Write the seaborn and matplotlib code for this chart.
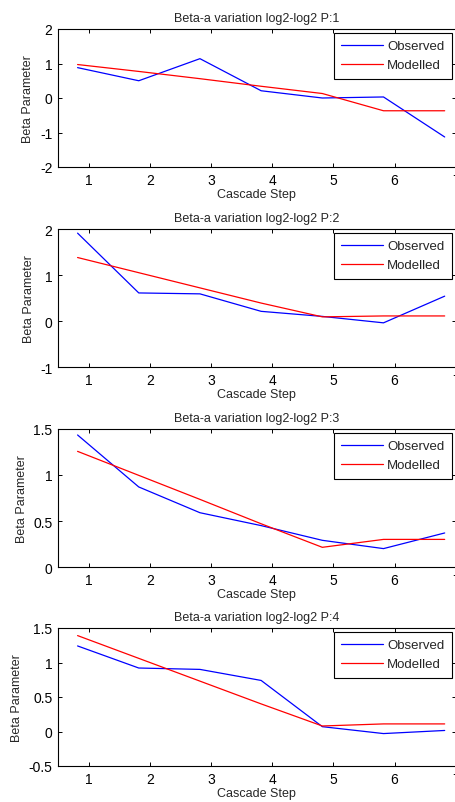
import seaborn as sns
import matplotlib.pyplot as plt
from matplotlib.ticker import FuncFormatter

# data
steps = [0.82, 1.82, 2.82, 3.82, 4.82, 5.82, 6.82]

observed_p1 = [0.88, 0.50, 1.14, 0.21, 0.00, 0.03, -1.13]
modelled_p1 = [0.97, 0.77, 0.56, 0.34, 0.13, -0.37, -0.37]

observed_p2 = [1.91, 0.61, 0.59, 0.21, 0.10, -0.04, 0.54]
modelled_p2 = [1.38, 1.05, 0.72, 0.39, 0.09, 0.11, 0.11]

observed_p3 = [1.435, 0.87, 0.59, 0.45, 0.29, 0.20, 0.37]
modelled_p3 = [1.257, 0.996, 0.735, 0.47, 0.214, 0.30, 0.30]

observed_p4 = [1.24, 0.92, 0.90, 0.74, 0.07, -0.03, 0.015]
modelled_p4 = [1.39, 1.06, 0.73, 0.40, 0.08, 0.11, 0.11]

panels = ["P:1", "P:2", "P:3", "P:4"]
observed = [observed_p1, observed_p2, observed_p3, observed_p4]
modelled = [modelled_p1, modelled_p2, modelled_p3, modelled_p4]
ylims = [(-2, 2), (-1, 2), (0, 1.5), (-0.5, 1.5)]
yticks = [[-2, -1, 0, 1, 2], [-1, 0, 1, 2], [0, 0.5, 1, 1.5], [-0.5, 0, 0.5, 1, 1.5]]
xticks = [1, 2, 3, 4, 5, 6, 7]

sns.set_style("ticks")
plt.rcParams['font.family'] = ['Liberation Sans', 'DejaVu Sans']
plt.rcParams['xtick.direction'] = 'in'
plt.rcParams['ytick.direction'] = 'in'

fig = plt.figure(figsize=(4.56, 8.03), dpi=100)

# axes boxes in figure fraction, MATLAB subplot layout
tops_px = [30, 230, 430, 629]
h_px = 138
left = 58 / 456
width = 455.7 / 456 - left

for i in range(4):
    bottom = 1 - (tops_px[i] + h_px) / 803
    ax = fig.add_axes([left, bottom, width, h_px / 803])

    sns.lineplot(x=steps, y=observed[i], color="blue", lw=0.9, label="Observed", ax=ax)
    sns.lineplot(x=steps, y=modelled[i], color="red", lw=0.9, label="Modelled", ax=ax)

    ax.set_xlim(0.5, 7)
    ax.set_ylim(*ylims[i])
    ax.set_xticks(xticks)
    ax.set_yticks(yticks[i])
    ax.yaxis.set_major_formatter(FuncFormatter(lambda v, p: "%g" % v))
    ax.tick_params(axis='both', labelsize=10, length=3, width=0.7, pad=4,
                   top=True, right=True, colors='black')
    for s in ax.spines.values():
        s.set_linewidth(0.8)
        s.set_color('black')

    ax.set_title("Beta-a variation log2-log2 " + panels[i], fontsize=9, pad=6)
    ax.set_xlabel("Cascade Step", fontsize=9, labelpad=1)
    ax.set_ylabel("Beta Parameter", fontsize=9, labelpad=4)

    leg = ax.legend(loc="upper right", fontsize=9.5, frameon=True, fancybox=False,
                    edgecolor='black', framealpha=1, handlelength=3.2,
                    handletextpad=0.3, labelspacing=0.5, borderaxespad=0.3,
                    borderpad=0.55)
    leg.get_frame().set_linewidth(0.8)

plt.savefig("out.png", dpi=100)
